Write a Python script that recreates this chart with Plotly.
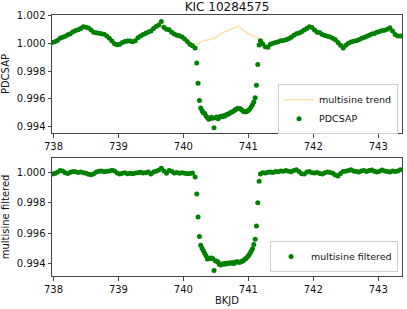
import plotly.graph_objects as go

# ---------------- data ----------------
time_pre = [737.98, 738.02, 738.06, 738.10, 738.14, 738.18, 738.22, 738.26, 738.30, 738.34,
            738.38, 738.42, 738.46, 738.50, 738.54, 738.58, 738.62, 738.66, 738.70, 738.74,
            738.78, 738.82, 738.86, 738.90, 738.94, 738.98, 739.02, 739.06, 739.10, 739.14,
            739.18, 739.22, 739.26, 739.30, 739.34, 739.38, 739.42, 739.46, 739.50, 739.54,
            739.58, 739.62, 739.66, 739.70, 739.74, 739.78, 739.82, 739.86, 739.90, 739.94,
            739.98, 740.02, 740.06, 740.10, 740.14, 740.18]
pdcsap_pre = [1.00005, 1.00010, 1.00020, 1.00035, 1.00042, 1.00050, 1.00060, 1.00068, 1.00082, 1.00090,
              1.00097, 1.00105, 1.00118, 1.00115, 1.00108, 1.00095, 1.00078, 1.00074, 1.00071, 1.00068,
              1.00064, 1.00052, 1.00035, 1.00015, 0.99995, 0.99988, 0.99992, 1.00005, 1.00012, 1.00015,
              1.00016, 1.00010, 1.00018, 1.00038, 1.00052, 1.00062, 1.00072, 1.00080, 1.00088, 1.00105,
              1.00120, 1.00130, 1.00155, 1.00115, 1.00100, 1.00097, 1.00078, 1.00065, 1.00057, 1.00054,
              1.00045, 1.00030, 1.00012, 0.99993, 0.99982, 0.99965]
filtered_pre = [0.99992, 0.99995, 1.00003, 1.00015, 1.00012, 1.00000, 0.99995, 1.00003, 1.00008, 1.00006,
                1.00002, 1.00005, 1.00000, 0.99997, 0.99990, 0.99986, 0.99993, 1.00004, 1.00010, 1.00012,
                1.00006, 1.00010, 1.00012, 1.00016, 1.00012, 0.99998, 0.99992, 0.99997, 1.00000, 0.99994,
                0.99996, 0.99993, 0.99998, 1.00000, 1.00003, 0.99998, 1.00000, 1.00005, 0.99992, 1.00004,
                1.00010, 1.00018, 1.00030, 1.00012, 0.99996, 1.00015, 1.00010, 0.99998, 1.00002, 0.99996,
                1.00000, 0.99997, 0.99993, 0.99995, 0.99998, 0.99972]

time_tr = [740.206, 740.226, 740.247, 740.267, 740.288, 740.308, 740.329, 740.349, 740.369, 740.390,
           740.410, 740.431, 740.451, 740.472, 740.492, 740.512, 740.533, 740.553, 740.574, 740.594,
           740.615, 740.635, 740.655, 740.676, 740.696, 740.717, 740.737, 740.757, 740.778, 740.798,
           740.819, 740.839, 740.860, 740.880, 740.900, 740.921, 740.941, 740.962, 740.982, 741.003,
           741.023, 741.043, 741.064, 741.084, 741.105, 741.125, 741.145, 741.166, 741.186]
pdcsap_tr = [0.99858, 0.99712, 0.99589, 0.99535, 0.99515, 0.99501, 0.99495, 0.99478, 0.99466, 0.99455,
             0.99460, 0.99468, 0.99462, 0.99393, 0.99465, 0.99470, 0.99458, 0.99468, 0.99475, 0.99472,
             0.99480, 0.99476, 0.99485, 0.99490, 0.99492, 0.99500, 0.99505, 0.99508, 0.99515, 0.99522,
             0.99528, 0.99533, 0.99532, 0.99528, 0.99520, 0.99512, 0.99508, 0.99508, 0.99512, 0.99518,
             0.99528, 0.99542, 0.99558, 0.99578, 0.99608, 0.99698, 0.99847, 0.99986, 1.00017]
filtered_tr = [0.99860, 0.99707, 0.99578, 0.99521, 0.99500, 0.99484, 0.99465, 0.99451, 0.99430, 0.99432,
               0.99434, 0.99436, 0.99432, 0.99353, 0.99418, 0.99414, 0.99410, 0.99395, 0.99390, 0.99396,
               0.99398, 0.99394, 0.99401, 0.99398, 0.99401, 0.99404, 0.99402, 0.99405, 0.99400, 0.99408,
               0.99412, 0.99410, 0.99408, 0.99409, 0.99415, 0.99418, 0.99426, 0.99432, 0.99441, 0.99452,
               0.99466, 0.99480, 0.99498, 0.99525, 0.99560, 0.99648, 0.99801, 0.99943, 0.99991]

time_post = [741.22, 741.26, 741.30, 741.34, 741.38, 741.42, 741.46, 741.50, 741.54, 741.58,
             741.62, 741.66, 741.70, 741.74, 741.78, 741.82, 741.86, 741.90, 741.94, 741.98,
             742.02, 742.06, 742.10, 742.14, 742.18, 742.22, 742.26, 742.30, 742.34, 742.38,
             742.42, 742.46, 742.50, 742.54, 742.58, 742.62, 742.66, 742.70, 742.74, 742.78,
             742.82, 742.86, 742.90, 742.94, 742.98, 743.02, 743.06, 743.10, 743.14, 743.18,
             743.22, 743.26, 743.30, 743.34]
pdcsap_post = [0.99995, 0.99975, 0.99970, 0.99992, 1.00000, 1.00005, 1.00010, 1.00017, 1.00020, 1.00025,
               1.00032, 1.00043, 1.00056, 1.00067, 1.00073, 1.00082, 1.00094, 1.00105, 1.00118, 1.00112,
               1.00095, 1.00078, 1.00074, 1.00062, 1.00055, 1.00050, 1.00045, 1.00036, 1.00025, 1.00005,
               0.99985, 0.99965, 0.99985, 1.00000, 1.00008, 1.00013, 1.00017, 1.00025, 1.00033, 1.00040,
               1.00048, 1.00057, 1.00065, 1.00070, 1.00078, 1.00084, 1.00090, 1.00093, 1.00100, 1.00110,
               1.00088, 1.00062, 1.00052, 1.00052]
filtered_post = [1.00000, 0.99998, 1.00003, 1.00005, 1.00002, 1.00008, 1.00006, 1.00012, 1.00010, 1.00014,
                 1.00010, 1.00006, 1.00015, 1.00020, 1.00008, 0.99994, 0.99992, 1.00005, 1.00008, 1.00000,
                 0.99998, 1.00002, 0.99995, 0.99992, 1.00000, 1.00005, 1.00002, 0.99996, 0.99985, 0.99978,
                 0.99995, 1.00008, 1.00010, 1.00015, 1.00020, 1.00012, 1.00008, 1.00005, 1.00012, 1.00015,
                 1.00008, 1.00014, 1.00018, 1.00010, 1.00005, 1.00010, 1.00018, 1.00012, 1.00008, 1.00005,
                 1.00012, 1.00008, 1.00012, 1.00020]

trend_time = [737.98, 738.10, 738.22, 738.34, 738.46, 738.58, 738.70, 738.82, 738.94, 739.06,
              739.18, 739.30, 739.42, 739.54, 739.62, 739.70, 739.82, 739.94, 740.06, 740.14,
              740.20, 740.24, 740.28, 740.32, 740.36, 740.40, 740.44, 740.48, 740.52, 740.56,
              740.60, 740.64, 740.68, 740.72, 740.76, 740.80, 740.84, 740.88, 740.92, 740.96,
              741.00, 741.04, 741.08, 741.12, 741.16, 741.20, 741.26, 741.38, 741.50, 741.62,
              741.74, 741.86, 741.98, 742.10, 742.22, 742.34, 742.46, 742.58, 742.70, 742.82,
              742.94, 743.06, 743.18, 743.30, 743.366]
trend_flux = [1.00005, 1.00035, 1.00060, 1.00090, 1.00115, 1.00093, 1.00071, 1.00052, 0.99998, 1.00005,
              1.00015, 1.00038, 1.00072, 1.00105, 1.00128, 1.00118, 1.00078, 1.00054, 1.00012, 0.99985,
              0.99993, 1.00003, 1.00014, 1.00019, 1.00022, 1.00025, 1.00029, 1.00036, 1.00047, 1.00062,
              1.00073, 1.00082, 1.00088, 1.00097, 1.00105, 1.00115, 1.00120, 1.00108, 1.00092, 1.00078,
              1.00066, 1.00058, 1.00052, 1.00047, 1.00032, 1.00015, 0.99978, 0.99998, 1.00017, 1.00032,
              1.00067, 1.00094, 1.00110, 1.00074, 1.00050, 1.00025, 0.99970, 1.00008, 1.00025, 1.00048,
              1.00070, 1.00090, 1.00105, 1.00055, 1.00052]

time_all = time_pre + time_tr + time_post
pdcsap_all = pdcsap_pre + pdcsap_tr + pdcsap_post
filtered_all = filtered_pre + filtered_tr + filtered_post

x_ticks = [738, 739, 740, 741, 742, 743]
x_tick_labels = ["738", "739", "740", "741", "742", "743"]
y_ticks_top = [0.994, 0.996, 0.998, 1.000, 1.002]
y_ticks_bottom = [0.994, 0.996, 0.998, 1.000]

title_text = "KIC 10284575"

# ---------------- figure ----------------
FONT = "DejaVu Sans"
GREEN = "#008000"
TXT = "#111111"

fig = go.Figure()

fig.add_trace(go.Scatter(x=trend_time, y=trend_flux, mode="lines", name="multisine trend",
                         line=dict(color="rgba(255,165,0,0.32)", width=1.6),
                         xaxis="x", yaxis="y", legend="legend"))
fig.add_trace(go.Scatter(x=time_all, y=pdcsap_all, mode="markers", name="PDCSAP",
                         marker=dict(color=GREEN, size=5),
                         xaxis="x", yaxis="y", legend="legend"))
fig.add_trace(go.Scatter(x=time_all, y=filtered_all, mode="markers", name="multisine filtered",
                         marker=dict(color=GREEN, size=5),
                         xaxis="x2", yaxis="y2", legend="legend2"))

axis_common = dict(showgrid=False, zeroline=False, showline=True, mirror=True,
                   linecolor="#444", linewidth=1, ticks="outside", ticklen=3.5,
                   tickcolor="#444", tickfont=dict(family=FONT, size=10, color=TXT))

xr = [737.977, 743.366]
legend_style = dict(font=dict(family=FONT, size=9.5, color=TXT), bgcolor="rgba(255,255,255,0.8)",
                    bordercolor="#cccccc", borderwidth=1, xanchor="right", yanchor="bottom",
                    tracegroupgap=0, itemwidth=30)

fig.update_layout(
    width=407, height=309,
    margin=dict(l=49, r=4, t=15, b=31),
    paper_bgcolor="white", plot_bgcolor="white",
    font=dict(family=FONT, size=10, color=TXT),
    title=dict(text=title_text, x=0.5, xref="paper", y=0.99, yref="container", yanchor="top",
               font=dict(family=FONT, size=12, color=TXT)),
    xaxis=dict(domain=[0, 1], range=xr, tickvals=x_ticks, ticktext=x_tick_labels,
               anchor="y", **axis_common),
    yaxis=dict(domain=[144 / 263, 1], range=[0.99355, 1.00202], tickvals=y_ticks_top,
               tickformat=".3f", anchor="x",
               title=dict(text="PDCSAP", font=dict(family=FONT, size=10, color=TXT), standoff=6),
               **axis_common),
    xaxis2=dict(domain=[0, 1], range=xr, tickvals=x_ticks, ticktext=x_tick_labels,
                anchor="y2",
                title=dict(text="BKJD", font=dict(family=FONT, size=10, color=TXT), standoff=3),
                **axis_common),
    yaxis2=dict(domain=[0, 119 / 263], range=[0.99317, 1.00098], tickvals=y_ticks_bottom,
                tickformat=".3f", anchor="x2",
                title=dict(text="multisine filtered", font=dict(family=FONT, size=10, color=TXT), standoff=6),
                **axis_common),
    legend=dict(x=0.9887, y=0.543, **legend_style),
    legend2=dict(x=0.9887, y=0.0152, **legend_style),
)

fig.write_html("out.html", config={"displayModeBar": False},
               post_script="document.body.style.margin='0';document.body.style.overflow='hidden';")
